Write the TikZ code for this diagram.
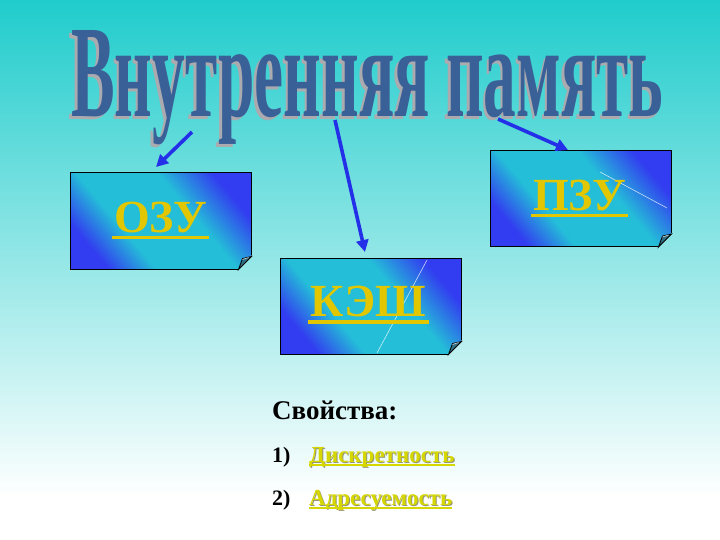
\documentclass[tikz,border=0pt]{standalone}
\usepackage{fontspec}
\setmainfont{Liberation Serif}
\usetikzlibrary{arrows.meta,calc}
\definecolor{bgtop}{RGB}{32,204,204}
\definecolor{cblue}{RGB}{50,60,240}
\definecolor{cteal}{RGB}{36,190,216}
\definecolor{ttl}{RGB}{58,96,152}
\definecolor{ttlsh}{RGB}{170,170,175}
\definecolor{cyel}{RGB}{226,198,0}
\definecolor{iyel}{RGB}{215,215,0}
\definecolor{ishadow}{RGB}{150,150,120}
\definecolor{arr}{RGB}{36,48,232}
\definecolor{flapc}{RGB}{50,110,130}
\pgfdeclareverticalshading{bgshade}{100bp}{color(0bp)=(white); color(29bp)=(white); color(75bp)=(bgtop); color(100bp)=(bgtop)}
\pgfdeclarehorizontalshading{cardshade}{100bp}{color(0bp)=(cblue); color(25bp)=(cblue); color(38bp)=(cteal); color(60bp)=(cteal); color(75bp)=(cblue); color(100bp)=(cblue)}
\tikzset{
  card/.style={shade, shading=cardshade, shading angle=40, draw=black, line width=1pt,
    minimum width=181pt, minimum height=96pt, inner sep=0pt},
  cardtext/.style={text=cyel, font=\fontsize{46}{46}\selectfont\bfseries, inner sep=0pt, anchor=base},
  cardline/.style={cyel, line width=3.5pt},
  glint/.style={white, opacity=0.75, line width=0.6pt},
  arrowline/.style={arr, line width=3.6pt, -{Triangle[length=12pt,width=12pt]}},
  titletext/.style={anchor=base west, inner sep=0pt},
  numtext/.style={anchor=base west, inner sep=0pt, font=\fontsize{22}{22}\selectfont\bfseries},
  wordtext/.style={anchor=base west, inner sep=0pt, text=iyel, font=\fontsize{23}{23}\selectfont\bfseries},
  wordline/.style={iyel, line width=1.5pt}
}
\newcommand\pagecurl[1]{%
  \begin{scope}
    \clip ($(#1.south east)+(-14,1)$) -- ($(#1.south east)+(1,1)$) -- ($(#1.south east)+(1,-15)$) -- cycle;
    \shade[shading=bgshade] (0,0) rectangle (720,540);
  \end{scope}
  \filldraw[fill=flapc, draw=black, line width=0.8pt]
    ($(#1.south east)+(-13,0)$) .. controls ($(#1.south east)+(-11,-6)$) .. ($(#1.south east)+(-9,-11)$)
    -- ($(#1.south east)+(0,-13)$) -- cycle;
  \draw[white, opacity=0.7, line width=0.7pt] ($(#1.south east)+(-9,-10)$) -- ($(#1.south east)+(-3,-12)$);
}
\newcommand\titlestr{Внутренняя память}
\begin{document}
\begin{tikzpicture}[x=1pt,y=-1pt]
\useasboundingbox (0,0) rectangle (720,540);
\shade[shading=bgshade] (0,0) rectangle (720,540);

% title (with its shadow in the same node)
\node[titletext, text=ttl] (title) at (71,117) {\resizebox{592pt}{86pt}{\bfseries\rlap{\kern-0.4pt\raisebox{-0.18pt}{\color{ttlsh}\titlestr}}\titlestr}};

% cards
\node[card] (ozu) at (160.5,221) {};
\node[card] (pzu) at (580.5,198.5) {};
\node[card] (kesh) at (370.5,306) {};
\pagecurl{ozu}
\pagecurl{pzu}
\pagecurl{kesh}

\draw[glint] (600,172) -- (667,208);
\draw[glint] (427,260) -- (377,353);

\node[cardtext] (ozut) at ($(ozu.center)+(0,11.5)$) {ОЗУ};
\node[cardtext] (pzut) at ($(pzu.center)+(-1,12)$) {ПЗУ};
\node[cardtext] (kesht) at ($(kesh.center)+(-2,10)$) {КЭШ};
\draw[cardline] ($(ozut.base west)+(-2,5)$) -- ($(ozut.base east)+(2,5)$);
\draw[cardline] ($(pzut.base west)+(-2,5)$) -- ($(pzut.base east)+(2,5)$);
\draw[cardline] ($(kesht.base west)+(-2,6)$) -- ($(kesht.base east)+(2,6)$);

% arrows
\coordinate (a1s) at (192,132); \coordinate (a1e) at (156,167);
\coordinate (a2s) at (335,120); \coordinate (a2e) at (365,252);
\coordinate (a3s) at (498,119); \coordinate (a3e) at (568,150);
\draw[arrowline] (a1s) -- (a1e);
\draw[arrowline] (a2s) -- (a2e);
\draw[arrowline] (a3s) -- (a3e);

% properties
\node[anchor=base west, inner sep=0pt, font=\fontsize{27}{27}\selectfont\bfseries] (props) at (272,419) {Свойства:};
\node[numtext] (n1) at (272,462) {1)};
\node[numtext] (n2) at (272,505) {2)};
\node[wordtext] (w1) at (309,462) {\rlap{\kern1pt\raisebox{-1pt}{\color{ishadow}Дискретность}}Дискретность};
\node[wordtext] (w2) at (309,505) {\rlap{\kern1pt\raisebox{-1pt}{\color{ishadow}Адресуемость}}Адресуемость};
\draw[wordline] ($(w1.base west)+(0,3)$) -- ($(w1.base east)+(0,3)$);
\draw[wordline] ($(w2.base west)+(0,3)$) -- ($(w2.base east)+(0,3)$);
\end{tikzpicture}
\end{document}
